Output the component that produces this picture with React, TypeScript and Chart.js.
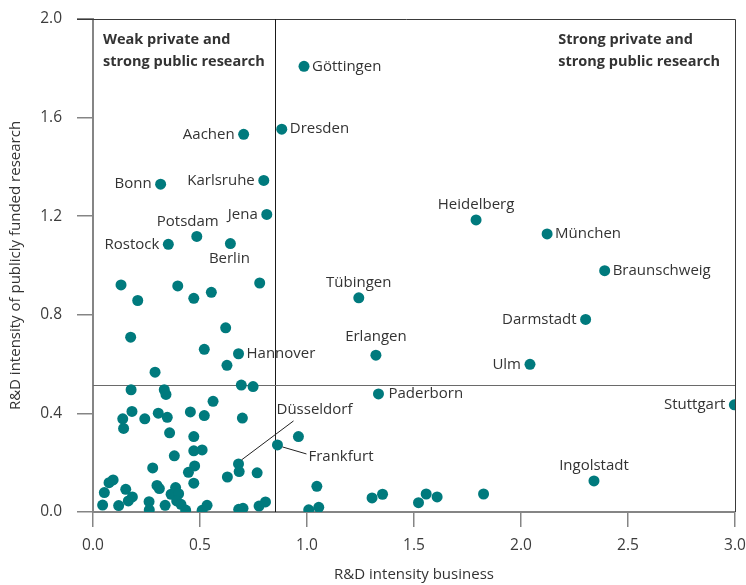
import React, { useEffect, useRef } from "react";
import { Chart, registerables } from "chart.js";

Chart.register(...registerables);

// ---- data ----
const xTickValues = [0, 0.5, 1, 1.5, 2, 2.5, 3];
const yTickValues = [0, 0.4, 0.8, 1.2, 1.6, 2.0];

const cityNames = [
  "Göttingen", "Dresden", "Aachen", "Karlsruhe", "Bonn", "Jena", "Potsdam", "Rostock", "Berlin",
  "Heidelberg", "München", "Braunschweig", "Tübingen", "Darmstadt", "Erlangen", "Ulm",
  "Paderborn", "Stuttgart", "Ingolstadt", "Hannover", "Düsseldorf", "Frankfurt",
];
const cityX = [
  0.986, 0.882, 0.704, 0.798, 0.316, 0.812, 0.485, 0.352, 0.642,
  1.790, 2.122, 2.391, 1.242, 2.302, 1.322, 2.042,
  1.334, 2.997, 2.341, 0.680, 0.680, 0.862,
];
const cityY = [
  1.808, 1.553, 1.532, 1.345, 1.330, 1.207, 1.118, 1.086, 1.089,
  1.185, 1.128, 0.979, 0.869, 0.781, 0.636, 0.599,
  0.479, 0.435, 0.126, 0.642, 0.195, 0.272,
];

const otherX = [
  0.131, 0.396, 0.209, 0.471, 0.553, 0.779, 0.176, 0.620, 0.520, 0.626,
  0.290, 0.178, 0.333, 0.341, 0.693, 0.748, 0.561, 0.182, 0.139, 0.143,
  0.242, 0.305, 0.347, 0.455, 0.520, 0.698, 0.358, 0.471, 0.960, 0.471,
  0.510, 0.380, 0.279, 0.475, 0.446, 0.683, 0.767, 0.628, 0.471, 0.299,
  0.310, 0.094, 0.075, 0.053, 0.153, 0.184, 0.165, 0.045, 0.120, 0.262,
  0.263, 0.337, 0.365, 0.386, 0.400, 0.391, 0.411, 0.433, 0.510, 0.533,
  0.681, 0.701, 0.776, 0.806, 1.008, 1.046, 1.055, 1.304, 1.353, 1.521,
  1.557, 1.608, 1.825,
];
const otherY = [
  0.921, 0.917, 0.858, 0.867, 0.891, 0.929, 0.709, 0.747, 0.660, 0.595,
  0.567, 0.496, 0.496, 0.477, 0.515, 0.509, 0.449, 0.408, 0.378, 0.339,
  0.378, 0.401, 0.384, 0.406, 0.391, 0.381, 0.321, 0.306, 0.306, 0.248,
  0.252, 0.228, 0.179, 0.187, 0.161, 0.164, 0.159, 0.142, 0.117, 0.108,
  0.095, 0.130, 0.119, 0.079, 0.092, 0.061, 0.045, 0.028, 0.026, 0.042,
  0.009, 0.027, 0.072, 0.099, 0.074, 0.045, 0.031, 0.008, 0.007, 0.027,
  0.011, 0.015, 0.024, 0.041, 0.009, 0.104, 0.019, 0.057, 0.072, 0.038,
  0.073, 0.061, 0.073,
];

const refX = 0.85;
const refY = 0.515;

const quadrantLeft = ["Weak private and", "strong public research"];
const quadrantRight = ["Strong private and", "strong public research"];
const xTitle = "R&D intensity business";
const yTitle = "R&D intensity of publicly funded research";

// ---- label placement (style, not data) ----
type Place = { pos: "r" | "l" | "t" | "b" | "lead"; dx?: number; dy?: number; lx1?: number; ly1?: number; lx2?: number; ly2?: number };
const placement: Record<string, Place> = {
  "Göttingen": { pos: "r" },
  "Dresden": { pos: "r" },
  "Aachen": { pos: "l" },
  "Karlsruhe": { pos: "l" },
  "Bonn": { pos: "l" },
  "Jena": { pos: "l" },
  "Potsdam": { pos: "t", dx: -9 },
  "Rostock": { pos: "l" },
  "Berlin": { pos: "b", dx: -1 },
  "Heidelberg": { pos: "t" },
  "München": { pos: "r" },
  "Braunschweig": { pos: "r" },
  "Tübingen": { pos: "t" },
  "Darmstadt": { pos: "l" },
  "Erlangen": { pos: "t", dy: -3 },
  "Ulm": { pos: "l" },
  "Paderborn": { pos: "r", dx: 2 },
  "Stuttgart": { pos: "l" },
  "Ingolstadt": { pos: "t" },
  "Hannover": { pos: "r" },
  "Düsseldorf": { pos: "lead", dx: 38, dy: -54, lx1: 3, ly1: -4, lx2: 55, ly2: -43 },
  "Frankfurt": { pos: "lead", dx: 31, dy: 12, lx1: 5, ly1: 2, lx2: 29, ly2: 9 },
};

const FONT = "'Open Sans', 'Noto Sans', sans-serif";
const TEAL = "#007a7d";

const overlayPlugin = {
  id: "overlay",
  beforeDatasetsDraw(chart: any) {
    const { ctx, chartArea: a, scales } = chart;
    const xs = scales.x;
    const ys = scales.y;
    ctx.save();
    // frame top and right
    ctx.strokeStyle = "#3a3a3a";
    ctx.lineWidth = 1;
    ctx.beginPath();
    ctx.moveTo(a.left - 16, Math.round(a.top) + 0.5);
    ctx.lineTo(Math.round(a.right) + 0.5, Math.round(a.top) + 0.5);
    ctx.lineTo(Math.round(a.right) + 0.5, a.bottom);
    ctx.stroke();
    // reference lines
    const px = Math.round(xs.getPixelForValue(refX)) + 0.5;
    const py = Math.round(ys.getPixelForValue(refY)) + 0.5;
    ctx.strokeStyle = "#1a1a1a";
    ctx.beginPath();
    ctx.moveTo(px, a.top);
    ctx.lineTo(px, a.bottom);
    ctx.stroke();
    ctx.strokeStyle = "#6a6a6a";
    ctx.lineWidth = 1.2;
    ctx.beginPath();
    ctx.moveTo(a.left, py);
    ctx.lineTo(a.right, py);
    ctx.stroke();
    // quadrant texts
    ctx.fillStyle = "#333";
    ctx.font = `bold 14.5px ${FONT}`;
    ctx.textBaseline = "middle";
    ctx.textAlign = "left";
    quadrantLeft.forEach((t, i) => ctx.fillText(t, a.left + 10, a.top + 21 + i * 22));
    const wRight = Math.max(...quadrantRight.map((t) => ctx.measureText(t).width));
    quadrantRight.forEach((t, i) => ctx.fillText(t, a.right - 15 - wRight, a.top + 21 + i * 22));
    ctx.restore();
  },
  afterDatasetsDraw(chart: any) {
    const { ctx, scales } = chart;
    const xs = scales.x;
    const ys = scales.y;
    ctx.save();
    ctx.fillStyle = "#333";
    ctx.font = `15px ${FONT}`;
    ctx.textBaseline = "middle";
    cityNames.forEach((name, i) => {
      const p = placement[name];
      const px = xs.getPixelForValue(cityX[i]);
      const py = ys.getPixelForValue(cityY[i]);
      const dx = p.dx ?? 0;
      const dy = p.dy ?? 0;
      if (p.pos === "r") {
        ctx.textAlign = "left";
        ctx.fillText(name, px + 8 + dx, py + dy);
      } else if (p.pos === "l") {
        ctx.textAlign = "right";
        ctx.fillText(name, px - 9 + dx, py + dy);
      } else if (p.pos === "t") {
        ctx.textAlign = "center";
        ctx.fillText(name, px + dx, py - 15 + dy);
      } else if (p.pos === "b") {
        ctx.textAlign = "center";
        ctx.fillText(name, px + dx, py + 15 + dy);
      } else {
        ctx.strokeStyle = "#222";
        ctx.lineWidth = 1;
        ctx.beginPath();
        ctx.moveTo(px + (p.lx1 ?? 0), py + (p.ly1 ?? 0));
        ctx.lineTo(px + (p.lx2 ?? 0), py + (p.ly2 ?? 0));
        ctx.stroke();
        ctx.textAlign = "left";
        ctx.fillText(name, px + dx, py + dy);
      }
    });
    ctx.restore();
  },
};

export default function App() {
  const canvasRef = useRef<HTMLCanvasElement | null>(null);

  useEffect(() => {
    if (!canvasRef.current) return;
    const cityData = cityX.map((x, i) => ({ x, y: cityY[i] }));
    const otherData = otherX.map((x, i) => ({ x, y: otherY[i] }));
    const tickFont = { family: FONT, size: 15.5 };
    const chart = new Chart(canvasRef.current, {
      type: "scatter",
      data: {
        datasets: [
          { data: otherData, backgroundColor: TEAL, pointRadius: 5.5, borderWidth: 0, pointHoverRadius: 5.5 },
          { data: cityData, backgroundColor: TEAL, pointRadius: 5.5, borderWidth: 0, pointHoverRadius: 5.5 },
        ],
      },
      options: {
        animation: false,
        responsive: false,
        layout: { padding: { top: 19, right: 11, left: 0, bottom: 0 } },
        plugins: { legend: { display: false }, tooltip: { enabled: false } },
        scales: {
          x: {
            type: "linear",
            min: 0,
            max: 3,
            afterFit: (s: any) => { s.height = 73; s.paddingLeft = 0; s.paddingRight = 0; },
            afterBuildTicks: (s: any) => { s.ticks = xTickValues.map((v) => ({ value: v })); },
            ticks: { padding: 9, color: "#3c3c3c", font: tickFont, callback: (v: any) => Number(v).toFixed(1) },
            grid: { drawOnChartArea: false, drawTicks: true, tickLength: 15, color: "#858585", lineWidth: 1.5 },
            border: { display: true, color: "#858585", width: 2 },
            title: { display: true, text: xTitle, color: "#333", font: { family: FONT, size: 15 }, padding: { top: 0, bottom: 1 } },
          },
          y: {
            type: "linear",
            min: 0,
            max: 2,
            afterFit: (s: any) => { s.width = 93; s.paddingTop = 0; s.paddingBottom = 0; },
            afterBuildTicks: (s: any) => { s.ticks = yTickValues.map((v) => ({ value: v })); },
            ticks: { padding: 15, color: "#3c3c3c", font: tickFont, callback: (v: any) => Number(v).toFixed(1) },
            grid: { drawOnChartArea: false, drawTicks: true, tickLength: 16, color: "#858585", lineWidth: 1.5 },
            border: { display: true, color: "#858585", width: 2 },
            title: { display: true, text: yTitle, color: "#333", font: { family: FONT, size: 15 }, padding: { top: 7, bottom: 0 } },
          },
        },
      },
      plugins: [overlayPlugin],
    } as any);
    return () => chart.destroy();
  }, []);

  return (
    <div style={{ position: "fixed", left: 0, top: 0, width: 746, height: 585, background: "#fff" }}>
      <canvas ref={canvasRef} width={746} height={585} style={{ display: "block" }} />
    </div>
  );
}
